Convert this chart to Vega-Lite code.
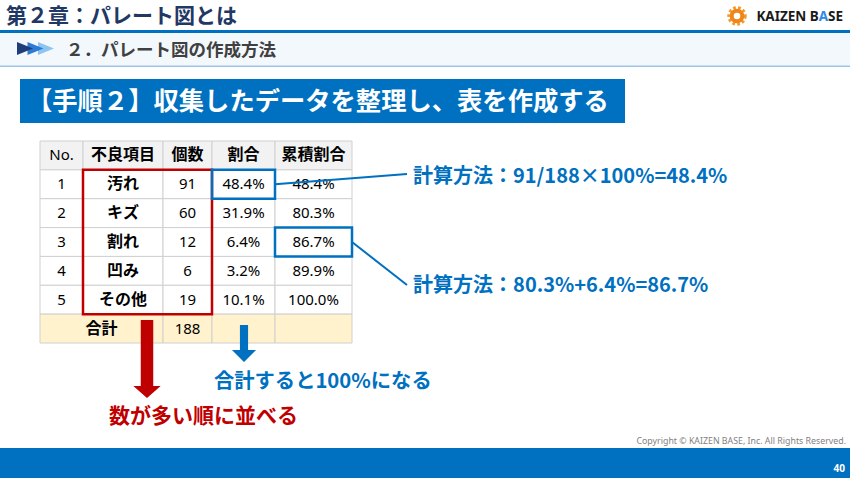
{
"$schema":"https://vega.github.io/schema/vega-lite/v6.json",
"width":850,"height":478,"padding":0,"autosize":{"type":"none"},
"background":"#ffffff",
"config":{"view":{"stroke":null},"font":"Noto Sans CJK JP"},
"datasets":{
"cells":[
{"r":0,"c":0,"ce":1,"v":"No."},{"r":0,"c":1,"ce":2,"v":"不良項目"},{"r":0,"c":2,"ce":3,"v":"個数"},{"r":0,"c":3,"ce":4,"v":"割合"},{"r":0,"c":4,"ce":5,"v":"累積割合"},
{"r":1,"c":0,"ce":1,"v":"1"},{"r":1,"c":1,"ce":2,"v":"汚れ"},{"r":1,"c":2,"ce":3,"v":"91"},{"r":1,"c":3,"ce":4,"v":"48.4%"},{"r":1,"c":4,"ce":5,"v":"48.4%"},
{"r":2,"c":0,"ce":1,"v":"2"},{"r":2,"c":1,"ce":2,"v":"キズ"},{"r":2,"c":2,"ce":3,"v":"60"},{"r":2,"c":3,"ce":4,"v":"31.9%"},{"r":2,"c":4,"ce":5,"v":"80.3%"},
{"r":3,"c":0,"ce":1,"v":"3"},{"r":3,"c":1,"ce":2,"v":"割れ"},{"r":3,"c":2,"ce":3,"v":"12"},{"r":3,"c":3,"ce":4,"v":"6.4%"},{"r":3,"c":4,"ce":5,"v":"86.7%"},
{"r":4,"c":0,"ce":1,"v":"4"},{"r":4,"c":1,"ce":2,"v":"凹み"},{"r":4,"c":2,"ce":3,"v":"6"},{"r":4,"c":3,"ce":4,"v":"3.2%"},{"r":4,"c":4,"ce":5,"v":"89.9%"},
{"r":5,"c":0,"ce":1,"v":"5"},{"r":5,"c":1,"ce":2,"v":"その他"},{"r":5,"c":2,"ce":3,"v":"19"},{"r":5,"c":3,"ce":4,"v":"10.1%"},{"r":5,"c":4,"ce":5,"v":"100.0%"},
{"r":6,"c":0,"ce":2,"v":"合計"},{"r":6,"c":2,"ce":3,"v":"188"},{"r":6,"c":3,"ce":4,"v":""},{"r":6,"c":4,"ce":5,"v":""}
],
"boxes":[
{"role":"並べ替え","c":1,"ce":3,"r":1,"re":6},
{"role":"割合","c":3,"ce":4,"r":1,"re":2},
{"role":"累積割合","c":4,"ce":5,"r":3,"re":4}
]
},
"layer":[
{"data":{"values":[{"e":"topRule"}]},"mark":{"type":"rect","fill":"#0070c0"},
 "encoding":{"x":{"field":"e","type":"nominal","axis":null,"scale":{"range":[0,850],"padding":0}},
  "y":{"field":"e","type":"nominal","axis":null,"scale":{"range":[30,33],"padding":0}}}},
{"data":{"values":[{"e":"sectionBand"}]},"mark":{"type":"rect","fill":"#f3f8fd"},
 "encoding":{"x":{"field":"e","type":"nominal","axis":null,"scale":{"range":[0,850],"padding":0}},
  "y":{"field":"e","type":"nominal","axis":null,"scale":{"range":[33,65.5],"padding":0}}}},
{"data":{"values":[{"e":"sectionRule"}]},"mark":{"type":"rect","fill":"#9dc3e6"},
 "encoding":{"x":{"field":"e","type":"nominal","axis":null,"scale":{"range":[0,850],"padding":0}},
  "y":{"field":"e","type":"nominal","axis":null,"scale":{"range":[65.5,67],"padding":0}}}},
{"data":{"values":[{"e":"banner"}]},"mark":{"type":"rect","fill":"#0070c0"},
 "encoding":{"x":{"field":"e","type":"nominal","axis":null,"scale":{"range":[20,625],"padding":0}},
  "y":{"field":"e","type":"nominal","axis":null,"scale":{"range":[79,123],"padding":0}}}},
{"data":{"values":[{"e":"footer"}]},"mark":{"type":"rect","fill":"#0070c0"},
 "encoding":{"x":{"field":"e","type":"nominal","axis":null,"scale":{"range":[0,850],"padding":0}},
  "y":{"field":"e","type":"nominal","axis":null,"scale":{"range":[448,478],"padding":0}}}},
{"data":{"values":[{"e":"chapter","t":"第２章：パレート図とは"}]},
 "mark":{"type":"text","align":"left","baseline":"middle","fontSize":21,"fontWeight":"bold","color":"#1f3864"},
 "encoding":{"x":{"field":"e","type":"nominal","axis":null,"bandPosition":0,"scale":{"type":"band","range":[6,300],"padding":0}},
  "y":{"field":"e","type":"nominal","axis":null,"scale":{"type":"band","range":[4,29],"padding":0}},
  "text":{"field":"t"}}},
{"data":{"values":[{"e":"gear"}]},
 "encoding":{"x":{"field":"e","type":"nominal","axis":null,"scale":{"range":[727,747],"padding":0}},
  "y":{"field":"e","type":"nominal","axis":null,"scale":{"range":[5,27],"padding":0}}},
 "layer":[
  {"mark":{"type":"point","shape":"circle","size":254,"filled":false,"opacity":1,"stroke":"#f39a2d","strokeWidth":3.5,"strokeDash":[2.6,2.2]}},
  {"mark":{"type":"point","shape":"circle","size":113,"filled":false,"opacity":1,"stroke":"#f08519","strokeWidth":4}}
 ]},
{"data":{"values":[{"e":"logo1","t":"KAIZEN B"}]},
 "mark":{"type":"text","align":"right","baseline":"middle","font":"Noto Sans","fontSize":13.5,"fontWeight":"bold","color":"#1a1a1a"},
 "encoding":{"x":{"field":"e","type":"nominal","axis":null,"bandPosition":1,"scale":{"type":"band","range":[760,818.8],"padding":0}},
  "y":{"field":"e","type":"nominal","axis":null,"scale":{"type":"band","range":[7,27],"padding":0}},
  "text":{"field":"t"}}},
{"data":{"values":[{"e":"logo2","t":"A"}]},
 "mark":{"type":"text","align":"right","baseline":"middle","font":"Noto Sans","fontSize":13.5,"fontWeight":"bold","color":"#2e8ae6"},
 "encoding":{"x":{"field":"e","type":"nominal","axis":null,"bandPosition":1,"scale":{"type":"band","range":[818.8,828.1],"padding":0}},
  "y":{"field":"e","type":"nominal","axis":null,"scale":{"type":"band","range":[7,27],"padding":0}},
  "text":{"field":"t"}}},
{"data":{"values":[{"e":"logo3","t":"SE"}]},
 "mark":{"type":"text","align":"right","baseline":"middle","font":"Noto Sans","fontSize":13.5,"fontWeight":"bold","color":"#1a1a1a"},
 "encoding":{"x":{"field":"e","type":"nominal","axis":null,"bandPosition":1,"scale":{"type":"band","range":[828.1,843],"padding":0}},
  "y":{"field":"e","type":"nominal","axis":null,"scale":{"type":"band","range":[7,27],"padding":0}},
  "text":{"field":"t"}}},
{"data":{"values":[{"k":"淡","g":"mark"},{"k":"中","g":"mark"},{"k":"濃","g":"mark"}]},
 "mark":{"type":"point","shape":"M-1,-0.8L1,0L-1,0.8Z","size":256,"filled":true,"opacity":1,"strokeWidth":0},
 "encoding":{"x":{"field":"k","type":"nominal","axis":null,"scale":{"type":"point","domain":["濃","中","淡"],"range":[25,46],"padding":0}},
  "y":{"field":"g","type":"nominal","axis":null,"scale":{"range":[41,56],"padding":0}},
  "color":{"field":"k","type":"nominal","legend":null,"scale":{"domain":["濃","中","淡"],"range":["#1f3d7a","#2e7bd6","#8cc5f2"]}}}},
{"data":{"values":[{"e":"section","t":"２．パレート図の作成方法"}]},
 "mark":{"type":"text","align":"left","baseline":"middle","fontSize":17.5,"fontWeight":"bold","color":"#404040"},
 "encoding":{"x":{"field":"e","type":"nominal","axis":null,"bandPosition":0,"scale":{"type":"band","range":[66,400],"padding":0}},
  "y":{"field":"e","type":"nominal","axis":null,"scale":{"type":"band","range":[38,63],"padding":0}},
  "text":{"field":"t"}}},
{"data":{"values":[{"e":"step","t":"【手順２】収集したデータを整理し、表を作成する"}]},
 "mark":{"type":"text","align":"left","baseline":"middle","fontSize":25.3,"fontWeight":"bold","color":"#ffffff"},
 "encoding":{"x":{"field":"e","type":"nominal","axis":null,"bandPosition":0,"scale":{"type":"band","range":[27,620],"padding":0}},
  "y":{"field":"e","type":"nominal","axis":null,"scale":{"type":"band","range":[80,124],"padding":0}},
  "text":{"field":"t"}}},
{"data":{"name":"cells"},
 "mark":{"type":"rect","stroke":"#d0d0d0","strokeWidth":1},
 "encoding":{"x":{"field":"c","type":"quantitative","axis":null,"scale":{"type":"linear","domain":[0,1,2,3,4,5],"range":[40,83,163,212,275,352],"zero":false,"nice":false}},
  "x2":{"field":"ce"},
  "y":{"field":"r","type":"ordinal","axis":null,"scale":{"type":"band","domain":[0,1,2,3,4,5,6],"range":[141,343],"padding":0}},
  "fill":{"condition":[{"test":"datum.r == 0","value":"#f2f2f2"},{"test":"datum.r == 6","value":"#fff2cc"}],"value":"#ffffff"}}},
{"data":{"name":"cells"},
 "transform":[{"filter":"(datum.r == 0 && datum.c > 0) || (datum.c == 1 && datum.r > 0 && datum.r < 6)"}],
 "mark":{"type":"text","align":"center","baseline":"middle","fontSize":16,"fontWeight":"bold","color":"#000000"},
 "encoding":{"x":{"field":"c","type":"quantitative","axis":null,"scale":{"type":"linear","domain":[0,1,2,3,4],"range":[61.5,123,187.5,243.5,313.5],"zero":false,"nice":false}},
  "y":{"field":"r","type":"ordinal","axis":null,"scale":{"type":"band","domain":[0,1,2,3,4,5,6],"range":[141,343],"padding":0}},
  "text":{"field":"v"}}},
{"data":{"name":"cells"},
 "transform":[{"filter":"(datum.r == 0 && datum.c == 0) || (datum.r > 0 && datum.r < 6 && datum.c != 1) || (datum.r == 6 && datum.c == 2)"}],
 "mark":{"type":"text","align":"center","baseline":"middle","font":"Noto Sans, Noto Sans CJK JP","fontSize":15,"color":"#000000"},
 "encoding":{"x":{"field":"c","type":"quantitative","axis":null,"scale":{"type":"linear","domain":[0,1,2,3,4],"range":[61.5,123,187.5,243.5,313.5],"zero":false,"nice":false}},
  "y":{"field":"r","type":"ordinal","axis":null,"scale":{"type":"band","domain":[0,1,2,3,4,5,6],"range":[141,343],"padding":0}},
  "text":{"field":"v"}}},
{"data":{"name":"cells"},
 "transform":[{"filter":"datum.r == 6 && datum.c == 0"}],
 "mark":{"type":"text","align":"center","baseline":"middle","fontSize":16,"fontWeight":"bold","color":"#000000"},
 "encoding":{"x":{"field":"v","type":"nominal","axis":null,"scale":{"type":"band","range":[40,163],"padding":0}},
  "y":{"field":"r","type":"ordinal","axis":null,"scale":{"type":"band","domain":[0,1,2,3,4,5,6],"range":[141,343],"padding":0}},
  "text":{"field":"v"}}},
{"data":{"name":"boxes"},
 "mark":{"type":"rect","fill":"transparent","strokeWidth":2.5},
 "encoding":{"x":{"field":"c","type":"quantitative","axis":null,"scale":{"type":"linear","domain":[0,1,2,3,4,5],"range":[40,83,163,212,275,352],"zero":false,"nice":false}},
  "x2":{"field":"ce"},
  "y":{"field":"r","type":"quantitative","axis":null,"scale":{"type":"linear","domain":[0,7],"range":[141,343],"zero":false,"nice":false}},
  "y2":{"field":"re"},
  "stroke":{"field":"role","type":"nominal","legend":null,"scale":{"domain":["並べ替え","割合","累積割合"],"range":["#c00000","#0070c0","#0070c0"]}}}},
{"data":{"values":[{"p":"box"},{"p":"note"}]},
 "mark":{"type":"line","color":"#0070c0","strokeWidth":2},
 "encoding":{"x":{"field":"p","type":"nominal","axis":null,"scale":{"type":"point","domain":["box","note"],"range":[275,407],"padding":0}},
  "y":{"field":"p","type":"nominal","axis":null,"scale":{"type":"point","domain":["box","note"],"range":[184.3,174],"padding":0}}}},
{"data":{"values":[{"p":"box"},{"p":"note"}]},
 "mark":{"type":"line","color":"#0070c0","strokeWidth":2},
 "encoding":{"x":{"field":"p","type":"nominal","axis":null,"scale":{"type":"point","domain":["box","note"],"range":[352,407],"padding":0}},
  "y":{"field":"p","type":"nominal","axis":null,"scale":{"type":"point","domain":["box","note"],"range":[242,285],"padding":0}}}},
{"data":{"values":[{"n":"割合","t":"計算方法：91/188×100%=48.4%"},{"n":"累積割合","t":"計算方法：80.3%+6.4%=86.7%"}]},
 "mark":{"type":"text","align":"left","baseline":"middle","fontSize":20,"fontWeight":"bold","color":"#0070c0"},
 "encoding":{"x":{"field":"n","type":"nominal","axis":null,"scale":{"type":"point","domain":["割合","累積割合"],"range":[413,413.1],"padding":0}},
  "y":{"field":"n","type":"nominal","axis":null,"scale":{"type":"point","domain":["割合","累積割合"],"range":[176.7,286],"padding":0}},
  "text":{"field":"t"}}},
{"data":{"values":[{"e":"sortArrow"}]},
 "mark":{"type":"point","shape":"M-0.16,-1L0.16,-1L0.16,0.69L0.35,0.69L0,1L-0.35,0.69L-0.16,0.69Z","size":6084,"filled":true,"opacity":1,"strokeWidth":0,"color":"#c00000"},
 "encoding":{"x":{"field":"e","type":"nominal","axis":null,"scale":{"range":[134,160],"padding":0}},
  "y":{"field":"e","type":"nominal","axis":null,"scale":{"range":[320,398],"padding":0}}}},
{"data":{"values":[{"e":"sumArrow"}]},
 "mark":{"type":"point","shape":"M-0.22,-1L0.22,-1L0.22,0.35L0.65,0.35L0,1L-0.65,0.35L-0.22,0.35Z","size":1369,"filled":true,"opacity":1,"strokeWidth":0,"color":"#0070c0"},
 "encoding":{"x":{"field":"e","type":"nominal","axis":null,"scale":{"range":[232,256],"padding":0}},
  "y":{"field":"e","type":"nominal","axis":null,"scale":{"range":[325,362],"padding":0}}}},
{"data":{"values":[{"e":"sumNote","t":"合計すると100%になる"}]},
 "mark":{"type":"text","align":"left","baseline":"middle","fontSize":20.3,"fontWeight":"bold","color":"#0070c0"},
 "encoding":{"x":{"field":"e","type":"nominal","axis":null,"bandPosition":0,"scale":{"type":"band","range":[214,500],"padding":0}},
  "y":{"field":"e","type":"nominal","axis":null,"scale":{"type":"band","range":[371,393],"padding":0}},
  "text":{"field":"t"}}},
{"data":{"values":[{"e":"sortNote","t":"数が多い順に並べる"}]},
 "mark":{"type":"text","align":"left","baseline":"middle","fontSize":21,"fontWeight":"bold","color":"#c00000"},
 "encoding":{"x":{"field":"e","type":"nominal","axis":null,"bandPosition":0,"scale":{"type":"band","range":[109,400],"padding":0}},
  "y":{"field":"e","type":"nominal","axis":null,"scale":{"type":"band","range":[406,428],"padding":0}},
  "text":{"field":"t"}}},
{"data":{"values":[{"e":"copyright","t":"Copyright ©  KAIZEN BASE, Inc.  All Rights Reserved."}]},
 "mark":{"type":"text","align":"right","baseline":"middle","font":"Noto Sans","fontSize":8.8,"color":"#7f7f7f"},
 "encoding":{"x":{"field":"e","type":"nominal","axis":null,"bandPosition":1,"scale":{"type":"band","range":[600,846],"padding":0}},
  "y":{"field":"e","type":"nominal","axis":null,"scale":{"type":"band","range":[434,448],"padding":0}},
  "text":{"field":"t"}}},
{"data":{"values":[{"e":"page","t":"40"}]},
 "mark":{"type":"text","align":"right","baseline":"middle","font":"Noto Sans","fontSize":10,"fontWeight":"bold","color":"#ffffff"},
 "encoding":{"x":{"field":"e","type":"nominal","axis":null,"bandPosition":1,"scale":{"type":"band","range":[800,845],"padding":0}},
  "y":{"field":"e","type":"nominal","axis":null,"scale":{"type":"band","range":[462,476],"padding":0}},
  "text":{"field":"t"}}}
],
"resolve":{"scale":{"x":"independent","y":"independent","color":"independent","stroke":"independent"}}
}
